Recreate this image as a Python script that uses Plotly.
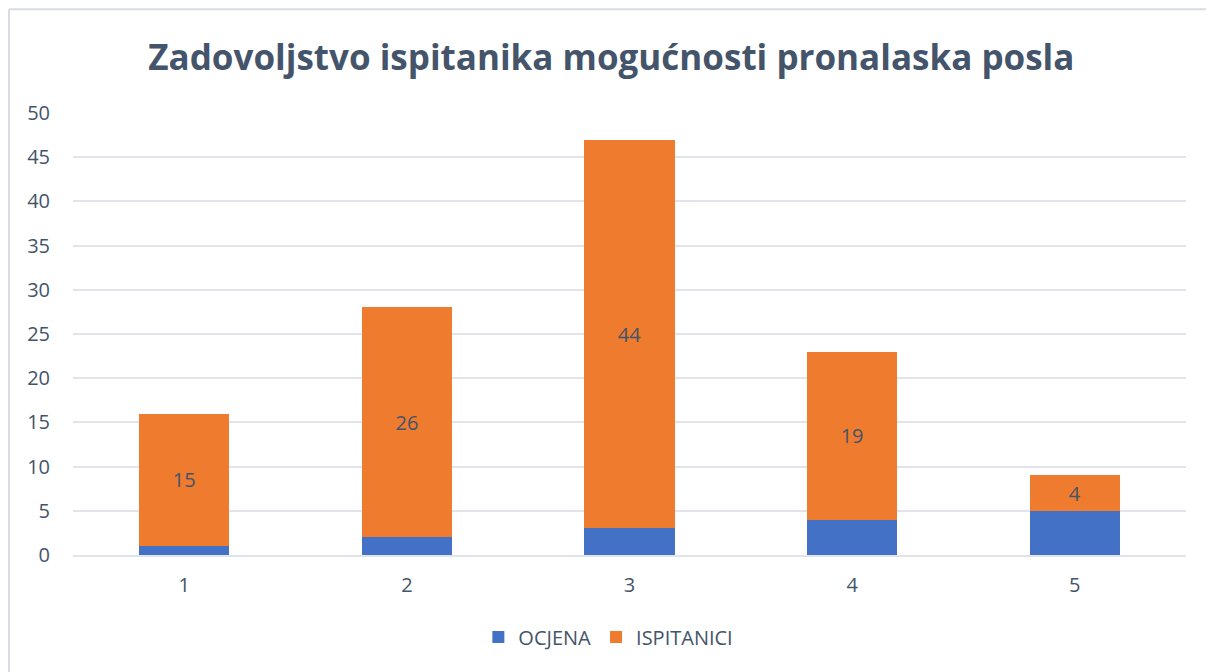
import plotly.graph_objects as go

categories = ["1", "2", "3", "4", "5"]
ocjena = [1, 2, 3, 4, 5]
ispitanici = [15, 26, 44, 19, 4]

text_color = "#44546A"
grid_color = "#E1E4EA"
font_family = "Open Sans, sans-serif"

fig = go.Figure()

fig.add_trace(
    go.Bar(
        x=categories,
        y=ocjena,
        name="OCJENA",
        marker=dict(color="#4271C6", line=dict(width=0)),
    )
)

fig.add_trace(
    go.Bar(
        x=categories,
        y=ispitanici,
        name="ISPITANICI",
        marker=dict(color="#EE7B2E", line=dict(width=0)),
        text=ispitanici,
        texttemplate="%{text}",
        textposition="inside",
        insidetextanchor="middle",
        textangle=0,
        textfont=dict(family=font_family, size=20, color=text_color),
    )
)

# chart area border (Excel style), only top and left visible
border = dict(color="#D9DDE3", width=2)
fig.add_shape(type="line", xref="paper", yref="paper", x0=-0.0575, x1=1.1, y0=1.235, y1=1.235, line=border)
fig.add_shape(type="line", xref="paper", yref="paper", x0=-0.0575, x1=-0.0575, y0=1.235, y1=-0.3, line=border)

fig.update_layout(
    barmode="stack",
    bargap=0.595,
    width=1214,
    height=672,
    plot_bgcolor="white",
    paper_bgcolor="white",
    margin=dict(l=65, r=36, t=105, b=125),
    title=dict(
        text="<b>Zadovoljstvo ispitanika mogućnosti pronalaska posla</b>",
        x=0.497,
        xanchor="center",
        y=0.926,
        yanchor="middle",
        font=dict(family=font_family, size=35, color=text_color),
    ),
    xaxis=dict(
        showgrid=False,
        showline=True,
        linecolor=grid_color,
        linewidth=2,
        ticks="",
        tickfont=dict(family=font_family, size=20, color=text_color),
        ticklabelstandoff=11,
    ),
    yaxis=dict(
        range=[0, 50],
        dtick=5,
        showgrid=True,
        gridcolor=grid_color,
        gridwidth=2,
        zeroline=False,
        ticks="",
        ticklabelstandoff=22,
        tickfont=dict(family=font_family, size=20, color=text_color),
    ),
    showlegend=True,
    legend=dict(
        orientation="h",
        x=0.481,
        xanchor="center",
        y=-0.1855,
        yanchor="middle",
        font=dict(family=font_family, size=20, color=text_color),
        traceorder="normal",
    ),
)

fig.write_html("out.html")
